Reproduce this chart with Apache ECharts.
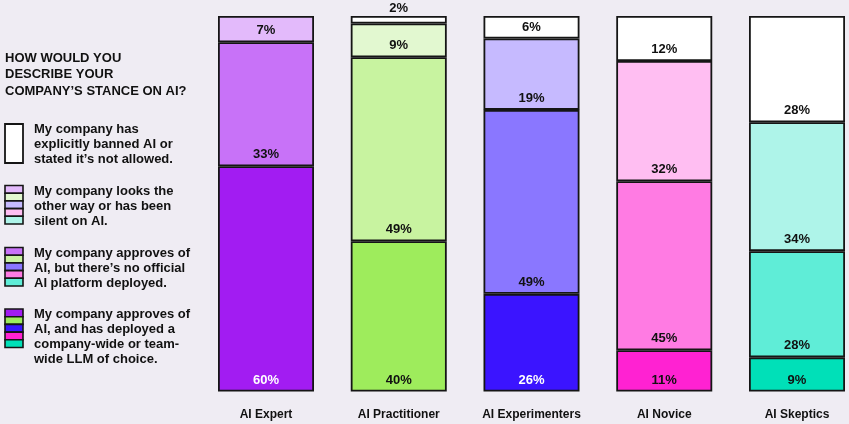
<!DOCTYPE html>
<html>
<head>
<meta charset="utf-8">
<script src="https://cdn.jsdelivr.net/npm/echarts@6/dist/echarts.min.js"></script>
<style>
html,body{margin:0;padding:0;background:#EFECF3;}
#c{width:849px;height:424px;}
</style>
</head>
<body>
<div id="c"></div>
<script>
// ---- data ----
var categories = ['AI Expert', 'AI Practitioner', 'AI Experimenters', 'AI Novice', 'AI Skeptics'];
var seriesNames = [
  'My company approves of AI, and has deployed a company-wide or team-wide LLM of choice.',
  'My company approves of AI, but there\u2019s no official AI platform deployed.',
  'My company looks the other way or has been silent on AI.',
  'My company has explicitly banned AI or stated it\u2019s not allowed.'
];
var deployed = [60, 40, 26, 11, 9];
var approves = [33, 49, 49, 45, 28];
var silent   = [7, 9, 19, 32, 34];
var banned   = [null, 2, 6, 12, 28];
var legendTitle = 'HOW WOULD YOU\nDESCRIBE YOUR\nCOMPANY\u2019S STANCE ON AI?';
var legendTexts = [
  'My company has\nexplicitly banned AI or\nstated it\u2019s not allowed.',
  'My company looks the\nother way or has been\nsilent on AI.',
  'My company approves of\nAI, but there\u2019s no official\nAI platform deployed.',
  'My company approves of\nAI, and has deployed a\ncompany-wide or team-\nwide LLM of choice.'
];

// ---- styles ----
var colDeployed = ['#A21CF2', '#9EEC5C', '#3B14FF', '#FF22D2', '#00E0B8'];
var colApproves = ['#C872F8', '#C8F3A0', '#8A77FF', '#FF7BE3', '#5FEDD7'];
var colSilent   = ['#E3BAFB', '#E2F8D0', '#C6BAFF', '#FFBEF2', '#AEF4E9'];
var colBanned   = ['#FFFFFF', '#FFFFFF', '#FFFFFF', '#FFFFFF', '#FFFFFF'];
var lblDeployed = ['#FFFFFF', '#111111', '#FFFFFF', '#111111', '#111111'];
var FONT = '"Liberation Sans", Arial, Helvetica, sans-serif';

var raw = [deployed, approves, silent, banned];
var cols = [colDeployed, colApproves, colSilent, colBanned];
var totals = categories.map(function (c, i) {
  return raw.reduce(function (s, arr) { return s + (arr[i] || 0); }, 0);
});

var series = raw.map(function (arr, si) {
  return {
    name: seriesNames[si],
    type: 'bar',
    stack: 'all',
    barWidth: 96,
    clip: false,
    data: arr.map(function (v, i) {
      if (v == null) return null;
      var small = v < 4;
      return {
        value: v / totals[i] * 100,
        raw: v,
        itemStyle: { color: cols[si][i] },
        label: {
          position: small ? 'top' : 'insideBottom',
          distance: small ? 1 : 5,
          color: si === 0 ? lblDeployed[i] : '#111111'
        }
      };
    }),
    itemStyle: { borderColor: '#151515', borderWidth: 1.8 },
    label: {
      show: true,
      fontFamily: FONT,
      fontWeight: 'bold',
      fontSize: 13,
      formatter: function (p) { return p.data.raw + '%'; }
    },
    emphasis: { disabled: true },
    animation: false
  };
});

// ---- legend graphics ----
var graphics = [];
graphics.push({
  type: 'text', left: 5, top: 50,
  style: { text: legendTitle, font: 'bold 13px ' + FONT, fill: '#111', lineHeight: 16.5 }
});
var itemTops = [124, 185.5, 247.5, 309];
var swatchSets = [colBanned.slice(0, 1), colSilent, colApproves, colDeployed];
swatchSets.forEach(function (set, k) {
  var top = itemTops[k];
  if (set.length === 1) {
    graphics.push({ type: 'rect', shape: { x: 5, y: top, width: 18, height: 39 },
      style: { fill: set[0], stroke: '#151515', lineWidth: 1.8 } });
  } else {
    set.forEach(function (c, j) {
      graphics.push({ type: 'rect', shape: { x: 5, y: top + j * 7.7, width: 18, height: 7.7 },
        style: { fill: c, stroke: '#151515', lineWidth: 1.6 } });
    });
  }
  graphics.push({
    type: 'text', left: 34, top: top - 2,
    style: { text: legendTexts[k], font: 'bold 13px ' + FONT, fill: '#111', lineHeight: 15 }
  });
});

var chart = echarts.init(document.getElementById('c'), null, { renderer: 'canvas' });
chart.setOption({
  backgroundColor: '#EFECF3',
  animation: false,
  grid: { left: 266, top: 16, width: 531, height: 375.5, outerBoundsMode: 'none' },
  xAxis: {
    type: 'category',
    data: categories,
    boundaryGap: false,
    axisLine: { show: false },
    axisTick: { show: false },
    splitLine: { show: false },
    axisLabel: { margin: 17, color: '#111', fontFamily: FONT, fontWeight: 'bold', fontSize: 12, interval: 0 }
  },
  yAxis: {
    type: 'value', min: 0, max: 100,
    show: false
  },
  series: series,
  graphic: graphics
});
</script>
</body>
</html>
